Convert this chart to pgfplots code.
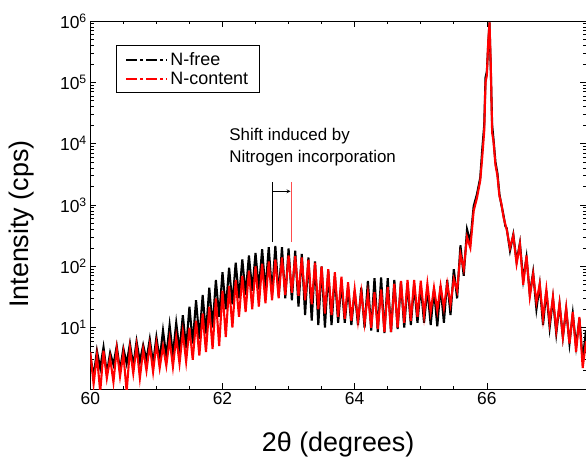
\documentclass[border=0pt]{standalone}
\usepackage{fontspec}
\setmainfont{Liberation Sans}
\usepackage{pgfplots}
\pgfplotsset{compat=1.18}
\usepackage{pgfplotstable}

\pgfplotstableread{
x y
60.00 3.5
60.05 1.6
60.10 4.2
60.15 2.2
60.20 4.8
60.25 1.8
60.30 3.9
60.35 2.5
60.40 5.0
60.45 2.0
60.50 4.6
60.55 2.6
60.60 5.5
60.65 2.4
60.70 6.0
60.75 2.8
60.80 5.2
60.85 3.0
60.90 6.5
60.95 2.6
61.00 7.0
61.05 3.0
61.10 9.0
61.15 3.4
61.20 11
61.25 3.6
61.30 12
61.35 4.2
61.40 16
61.45 4.6
61.50 22
61.55 5.5
61.60 28
61.65 6.5
61.70 34
61.75 8
61.80 45
61.85 10
61.90 60
61.95 15
62.00 80
62.05 20
62.10 95
62.15 24
62.20 115
62.25 30
62.30 130
62.35 34
62.40 150
62.45 40
62.50 165
62.55 42
62.60 190
62.65 40
62.70 205
62.75 36
62.80 215
62.85 33
62.90 205
62.95 30
63.00 195
63.05 28
63.10 180
63.15 22
63.20 160
63.25 16
63.30 140
63.35 13
63.40 120
63.45 11
63.50 100
63.55 10
63.60 85
63.65 11
63.70 70
63.75 12
63.80 55
63.85 12
63.90 45
63.95 11
64.00 40
64.05 11
64.10 45
64.15 10
64.20 58
64.25 9
64.30 64
64.35 8.5
64.40 66
64.45 8.2
64.50 64
64.55 8.5
64.60 60
64.65 9.5
64.70 56
64.75 10
64.80 52
64.85 11
64.90 50
64.95 12
65.00 48
65.05 12
65.10 44
65.15 11
65.20 42
65.25 10.5
65.30 48
65.35 12
65.40 60
65.45 16
65.50 90
65.55 30
65.60 220
65.65 70
65.70 400
65.75 250
65.80 950
65.85 1500
65.90 2800
65.93 8000
65.96 20000
65.98 120000
66.00 150000
66.02 400000
66.04 950000
66.06 150000
66.08 20000
66.10 12000
66.13 5000
66.16 3300
66.19 1500
66.22 1000
66.25 700
66.28 450
66.30 420
66.35 180
66.40 330
66.45 120
66.50 240
66.55 60
66.60 140
66.65 35
66.70 80
66.75 20
66.80 50
66.85 11
66.90 40
66.95 10
67.00 30
67.05 8
67.10 24
67.15 7
67.20 20
67.25 5.5
67.30 17
67.35 5
67.40 14
67.45 3
67.50 9
}\nfree

\pgfplotstableread{
x y
60.00 4.0
60.05 1.2
60.10 3.5
60.15 0.9
60.20 4.2
60.25 1.5
60.30 3.2
60.35 1.3
60.40 4.5
60.45 1.6
60.50 3.8
60.55 0.9
60.60 4.6
60.65 1.8
60.70 5.0
60.75 1.5
60.80 4.4
60.85 2.0
60.90 5.2
60.95 1.9
61.00 5.5
61.05 2.2
61.10 5.0
61.15 2.4
61.20 6.5
61.25 2.3
61.30 7.0
61.35 2.6
61.40 8.5
61.45 2.8
61.50 10
61.55 3.0
61.60 13
61.65 3.5
61.70 17
61.75 4.0
61.80 22
61.85 4.5
61.90 30
61.95 5.0
62.00 40
62.05 7
62.10 48
62.15 10
62.20 60
62.25 15
62.30 70
62.35 18
62.40 85
62.45 20
62.50 100
62.55 22
62.60 110
62.65 25
62.70 120
62.75 28
62.80 130
62.85 30
62.90 140
62.95 34
63.00 150
63.05 37
63.10 148
63.15 33
63.20 140
63.25 28
63.30 128
63.35 24
63.40 115
63.45 20
63.50 100
63.55 17
63.60 90
63.65 16
63.70 80
63.75 15
63.80 68
63.85 14
63.90 55
63.95 13
64.00 42
64.05 13
64.10 38
64.15 12
64.20 36
64.25 10
64.30 38
64.35 9.5
64.40 42
64.45 8.5
64.50 46
64.55 8.5
64.60 52
64.65 10
64.70 58
64.75 12
64.80 60
64.85 13
64.90 60
64.95 15
65.00 58
65.05 16
65.10 52
65.15 18
65.20 45
65.25 19
65.30 48
65.35 21
65.40 52
65.45 24
65.50 62
65.55 40
65.60 160
65.65 90
65.70 300
65.75 200
65.80 800
65.85 1300
65.90 2500
65.93 6000
65.96 16000
65.98 100000
66.00 130000
66.02 450000
66.04 950000
66.06 180000
66.08 15000
66.10 11000
66.13 4500
66.16 3000
66.19 1400
66.22 1050
66.25 650
66.28 480
66.30 400
66.35 200
66.40 320
66.45 110
66.50 230
66.55 50
66.60 150
66.65 32
66.70 75
66.75 26
66.80 52
66.85 14
66.90 42
66.95 12
67.00 32
67.05 9
67.10 25
67.15 7
67.20 21
67.25 5.5
67.30 18
67.35 4
67.40 15
67.45 2.2
67.50 6
}\ncontent

\begin{document}
\begin{tikzpicture}
\begin{axis}[
  scale only axis, width=495.7bp, height=368bp,
  xmin=60, xmax=67.5, ymode=log, ymin=1, ymax=1e6,
  xtick={60,62,64,66}, minor x tick num=3,
  ytick={10,100,1000,10000,100000,1000000},
  yticklabels={10\textsuperscript{1},10\textsuperscript{2},10\textsuperscript{3},10\textsuperscript{4},10\textsuperscript{5},10\textsuperscript{6}},
  minor ytick={2,3,4,5,6,7,8,9,20,30,40,50,60,70,80,90,200,300,400,500,600,700,800,900,2000,3000,4000,5000,6000,7000,8000,9000,20000,30000,40000,50000,60000,70000,80000,90000,200000,300000,400000,500000,600000,700000,800000,900000},
  tick align=inside, major tick length=6bp, minor tick length=3.5bp,
  axis line style={line width=0.9pt},
  every tick/.style={black, line width=0.7pt},
  /pgf/number format/assume math mode=true,
  tick label style={font=\fontsize{17.5}{21}\selectfont},
  xlabel={2θ (degrees)}, ylabel={Intensity (cps)},
  label style={font=\fontsize{27}{32}\selectfont},
  xlabel style={at={(axis description cs:0.5,-0.152)}, anchor=center},
  ylabel style={at={(axis description cs:-0.138,0.448)}, anchor=center},
  legend style={at={(axis description cs:0.052,0.935)}, anchor=north west,
    draw=black, line width=0.8pt, font=\fontsize{18}{22}\selectfont,
    inner xsep=9bp, inner ysep=5bp, row sep=1bp},
  legend cell align=left,
]
\addplot[black, line width=2.1pt, forget plot] table[x=x,y=y] {\nfree};
\addplot[red, line width=2.1pt, forget plot] table[x=x,y=y] {\ncontent};
\addlegendimage{legend image code/.code={\draw[black, line width=2pt, dash pattern=on 11bp off 3bp on 3bp off 3bp] (0bp,0bp) -- (41bp,0bp);}}
\addlegendentry{N-free}
\addlegendimage{legend image code/.code={\draw[red, line width=2pt, dash pattern=on 11bp off 3bp on 3bp off 3bp] (0bp,0bp) -- (41bp,0bp);}}
\addlegendentry{N-content}
\draw[black, line width=0.8pt] (axis cs:62.75,247) -- (axis cs:62.75,2350);
\draw[red!70, line width=1.1pt] (axis cs:63.05,247) -- (axis cs:63.05,2350);
\draw[black, line width=0.8pt, -stealth] (axis cs:62.75,1670) -- (axis cs:63.03,1670);
\node[anchor=base west, font=\fontsize{17}{20}\selectfont, inner sep=0pt] at (axis cs:62.1,11350) {Shift induced by};
\node[anchor=base west, font=\fontsize{17}{20}\selectfont, inner sep=0pt] at (axis cs:62.1,4980) {Nitrogen incorporation};
\end{axis}
\pgfresetboundingbox
\path[use as bounding box] ([xshift=-90.3bp,yshift=-70bp]current axis.south west) rectangle ([yshift=21bp]current axis.north east);
\end{tikzpicture}
\end{document}
